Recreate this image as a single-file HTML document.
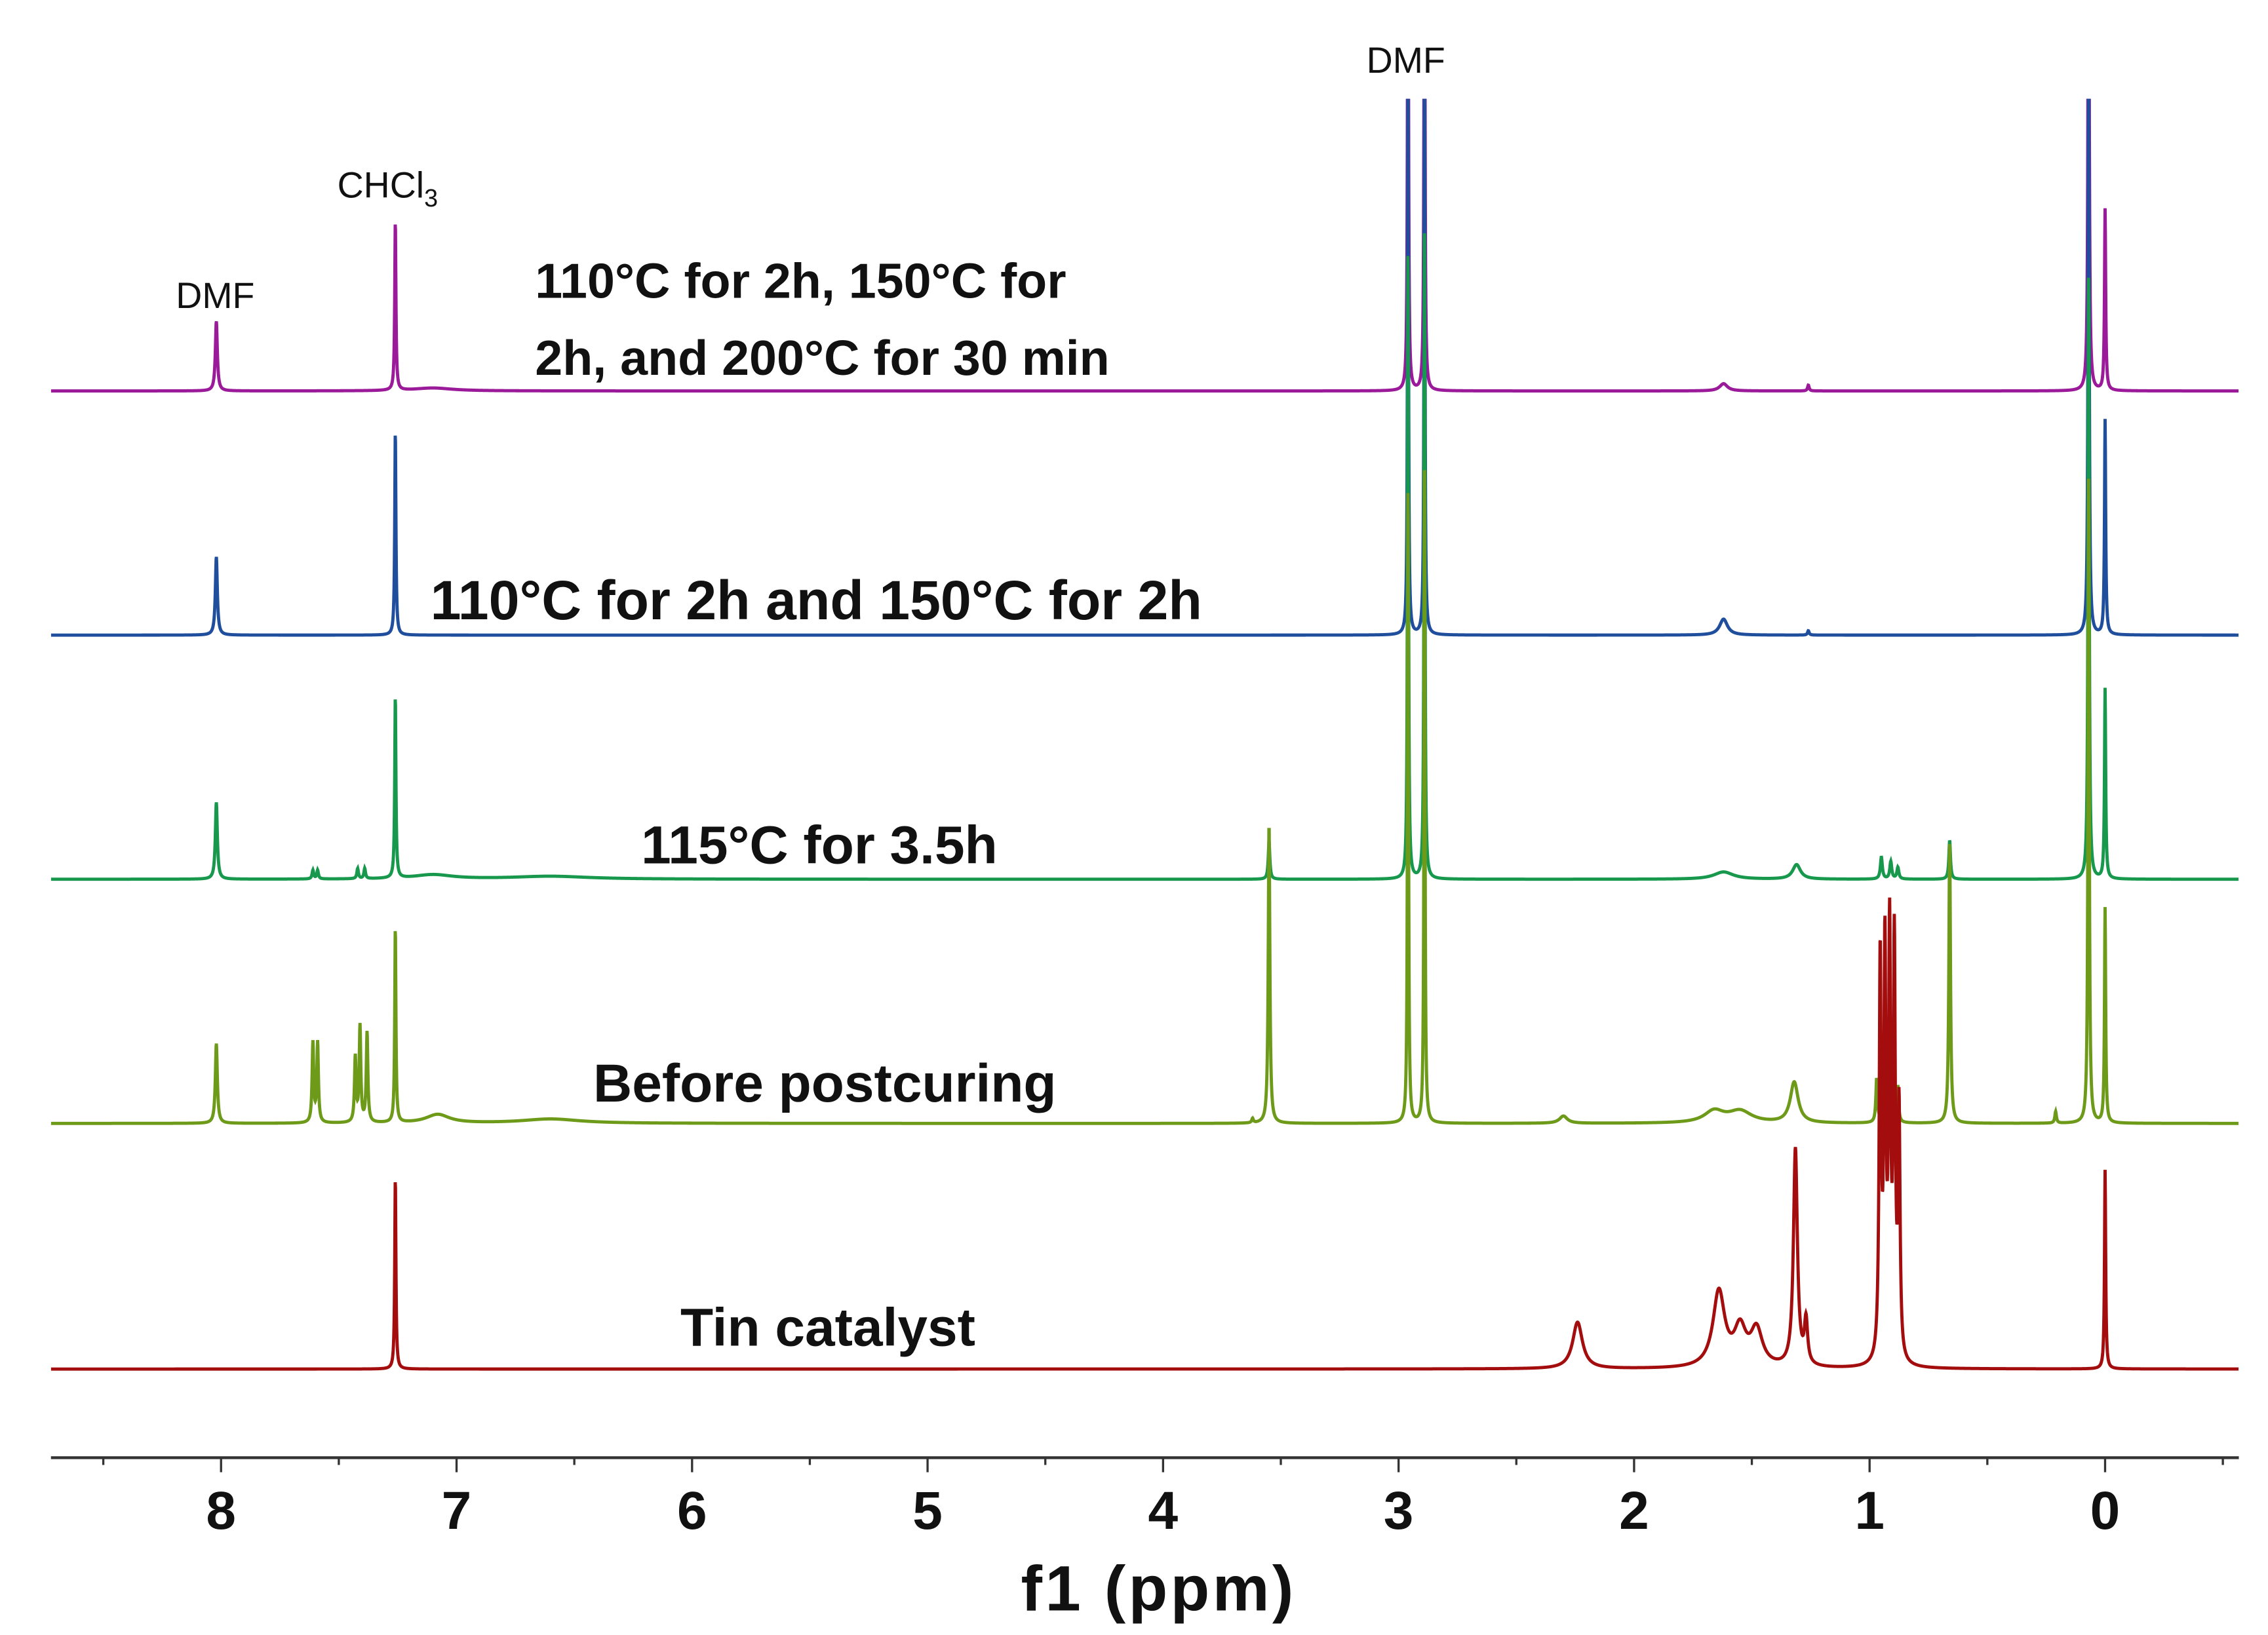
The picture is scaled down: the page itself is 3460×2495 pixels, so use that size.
<!DOCTYPE html>
<html><head><meta charset="utf-8"><style>
html,body{margin:0;padding:0;background:#fff;}
svg{display:block;font-family:"Liberation Sans",sans-serif;}
</style></head><body>
<svg id="chart" width="3460" height="2495" viewBox="0 0 1560 1125" xmlns="http://www.w3.org/2000/svg">
<defs><clipPath id="clip"><rect x="35" y="68" width="1505" height="940"/></clipPath></defs>
<g id="spectra" clip-path="url(#clip)"></g>
<g id="axis"></g>
<g font-size="25" fill="#111">
<text x="148" y="212" text-anchor="middle">DMF</text>
<text x="232" y="136">CHCl<tspan font-size="17" dy="6">3</tspan></text>
<text x="967" y="50" text-anchor="middle">DMF</text>
</g>
<g font-weight="bold" fill="#111">
<text x="368" y="205" font-size="34">110°C for 2h, 150°C for</text>
<text x="368" y="258" font-size="34">2h, and 200°C for 30 min</text>
<text x="296" y="426" font-size="38">110°C for 2h and 150°C for 2h</text>
<text x="441" y="594" font-size="37">115°C for 3.5h</text>
<text x="408" y="758" font-size="37">Before postcuring</text>
<text x="468" y="926" font-size="37">Tin catalyst</text>
</g>
</svg>
<script>
// peaks: [ppm, height(px units), hwhm ppm]
const purplePeaks=[[8.02,48,0.005],[7.26,117,0.003],[7.1,2,0.1],[2.96,400,0.0025],[2.89,400,0.0025],[1.62,5,0.02],[1.26,4,0.004],[0.07,400,0.003],[0.0,125,0.003]];
const bluePeaks=[[8.02,54,0.005],[7.26,141,0.003],[2.96,400,0.0025],[2.89,400,0.0025],[1.62,11,0.02],[1.26,3,0.004],[0.07,400,0.003],[0.0,148,0.003]];
const greenPeaks=[[8.02,53,0.005],[7.61,6,0.004],[7.59,6,0.004],[7.42,7,0.004],[7.39,7,0.004],[7.26,126,0.003],[7.1,3,0.1],[6.6,2,0.2],[3.55,26,0.004],[2.96,445,0.0025],[2.89,445,0.0025],[1.62,5,0.05],[1.31,10,0.02],[0.95,15,0.005],[0.91,12,0.005],[0.88,8,0.005],[0.66,27,0.004],[0.07,420,0.003],[0.0,131,0.003]];
const olivePeaks=[[8.02,55,0.005],[7.61,55,0.004],[7.59,55,0.004],[7.43,45,0.004],[7.41,66,0.004],[7.38,62,0.004],[7.26,135,0.003],[7.08,6,0.06],[6.6,3,0.15],[3.55,207,0.004],[3.62,3,0.004],[2.96,450,0.0025],[2.89,450,0.0025],[2.3,5,0.02],[1.66,8,0.05],[1.55,8,0.06],[1.32,28,0.02],[0.97,30,0.004],[0.94,55,0.004],[0.91,55,0.004],[0.88,25,0.004],[0.66,195,0.004],[0.21,8,0.004],[0.07,450,0.003],[0.0,148,0.003]];
const redPeaks=[[7.26,132,0.003],[2.24,32,0.025],[1.64,52,0.03],[1.55,25,0.03],[1.48,25,0.03],[1.315,150,0.01],[1.27,30,0.008],[0.955,275,0.005],[0.935,275,0.005],[0.915,285,0.005],[0.895,280,0.005],[0.875,170,0.005],[0.0,137,0.003]];
const baselines=[269,437,605,773,942];
const colors=["#9a1a9a","#1f4e9c","#17984c","#6e9a1a","#a30d0d"];
const names=["spectrum-200c","spectrum-150c","spectrum-115c","spectrum-before-postcuring","spectrum-tin-catalyst"];
const allPeaks=[purplePeaks,bluePeaks,greenPeaks,olivePeaks,redPeaks];
const tickLabels=[8,7,6,5,4,3,2,1,0];
const NS="http://www.w3.org/2000/svg";
function xScale(ppm){return 1448-162*ppm;}
function ppmAt(x){return (1448-x)/162;}
const g=document.getElementById('spectra');
allPeaks.forEach((peaks,i)=>{
  let d="";
  for(let x=35;x<=1540;x+=0.2){
    const p=ppmAt(x);let y=0;
    for(const [c,h,w] of peaks){const t=(p-c)/w;y+=h/(1+t*t);}
    d+=(x===35?"M":"L")+x.toFixed(2)+","+(baselines[i]-y).toFixed(2);
  }
  const path=document.createElementNS(NS,'path');
  path.setAttribute('d',d);path.setAttribute('fill','none');
  path.setAttribute('stroke',colors[i]);path.setAttribute('stroke-width','2.2');
  
  
  g.appendChild(path);
});
const ax=document.getElementById('axis');
const line=document.createElementNS(NS,'line');
line.setAttribute('x1',35);line.setAttribute('x2',1540);line.setAttribute('y1',1003);line.setAttribute('y2',1003);
line.setAttribute('stroke','#333');line.setAttribute('stroke-width','2');


ax.appendChild(line);
for(let v=-0.5;v<=8.5;v+=0.5){
  const major=Math.abs(v-Math.round(v))<1e-6;
  const t=document.createElementNS(NS,'line');
  const x=xScale(v);
  t.setAttribute('x1',x);t.setAttribute('x2',x);t.setAttribute('y1',1003);t.setAttribute('y2',major?1013:1008);
  t.setAttribute('stroke','#333');t.setAttribute('stroke-width','1.5');
  
  
  ax.appendChild(t);
}
tickLabels.forEach(v=>{
  const t=document.createElementNS(NS,'text');
  t.setAttribute('x',xScale(v));t.setAttribute('y',1052);t.setAttribute('text-anchor','middle');
  t.setAttribute('font-size','37');t.setAttribute('font-weight','bold');t.setAttribute('fill','#111');
  t.textContent=v;
  
  
  ax.appendChild(t);
});
const title=document.createElementNS(NS,'text');
title.setAttribute('x',797);title.setAttribute('y',1108);title.setAttribute('text-anchor','middle');
title.setAttribute('font-size','44');title.setAttribute('font-weight','bold');title.setAttribute('fill','#111');
title.setAttribute('letter-spacing','2');
title.textContent='f1 (ppm)';


ax.appendChild(title);
</script>
</body></html>
